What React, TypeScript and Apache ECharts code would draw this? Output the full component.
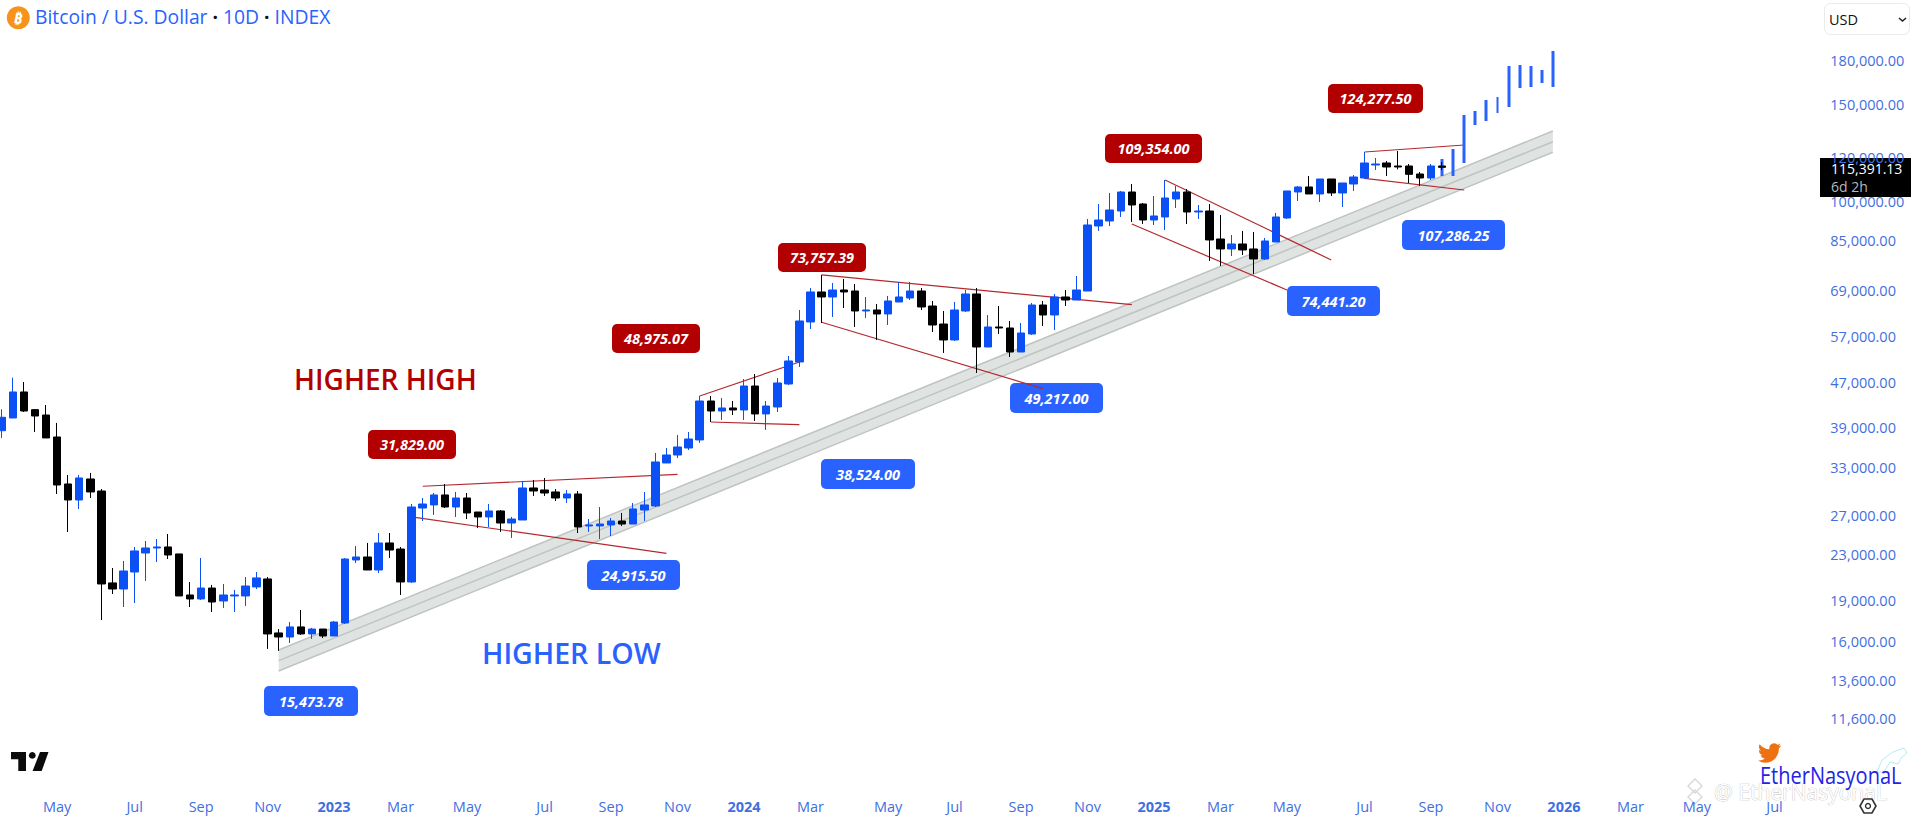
import React, { useEffect, useRef } from "react";
import * as echarts from "echarts";

const open = [38500,40590,45240,42030,41100,37500,30830,28840,31480,29940,20410,19900,21360,23120,23610,23710,23030,19410,19090,19980,18930,19330,19330,20070,20750,16570,16290,16990,16500,16840,16360,17270,22460,22740,21540,24110,23510,20490,27890,28250,29450,28010,29080,27430,26870,27550,26200,26530,30320,30070,29820,29080,29570,25880,25880,25990,26420,26090,27660,28130,33650,34790,35820,37040,43570,41790,42320,41970,46380,41280,42500,46770,51270,60570,68640,67220,69210,68920,63410,63670,62620,65830,66940,68920,64740,60060,56190,63410,68070,54570,59320,59070,53450,57610,65010,62360,67220,66380,68920,90370,92270,96200,104130,99050,92660,93830,101140,104130,95800,96200,85600,82110,83840,82110,78760,84540,93440,104130,106320,103270,109930,103700,107660,110390,116540,117510,116050,116050,112240,110390,116050];
const close = [40710,45240,41790,40930,37350,30700,28840,31610,29820,20320,19900,21450,23320,23610,23710,22930,19330,19090,19980,18850,19410,19410,20150,20840,16500,16290,16990,16500,16840,16360,17340,22550,22740,21540,24110,23410,20490,28010,28360,29450,28010,29080,27320,26870,27550,26200,26640,30320,29940,29690,29080,29570,25770,25990,26090,26420,26090,27780,28250,33790,34790,35970,37190,43570,41790,42320,41970,46380,41280,42670,46970,51480,60820,68640,67220,69210,68640,63410,63670,62620,66110,67220,68920,64480,59810,56190,63670,68070,54570,59320,59070,53450,57850,65010,62360,67220,66380,69210,90750,92660,96600,104130,98640,92660,94220,101560,104130,95800,96200,85250,82110,83840,81770,78760,84890,93830,104570,106320,103270,109930,103700,108110,110850,117510,117020,115570,115570,112090,110390,116050,115391];
const high = [42090,48020,47160,42140,42850,39760,32010,32010,32280,30190,21720,22370,23710,24310,24510,25030,23030,20490,22650,20240,20320,19820,20920,21360,20920,16840,17340,18230,16920,16840,17420,22650,23810,24110,25130,25130,23710,28360,29080,29690,30830,29820,29690,27430,28360,27660,26870,31220,31350,31610,30190,30070,29940,26640,28010,26760,27320,28480,29820,35080,35820,37820,38290,44490,44490,44120,43570,47760,48760,43570,47960,52560,63670,69790,73680,71260,72460,70960,67220,65290,67500,71560,71560,69790,66110,63410,65830,69210,69790,62360,64740,60820,60320,65560,66110,68070,69210,73370,93050,99050,103700,104570,107660,99460,102410,109470,106770,105440,98640,99050,94610,87040,88510,88140,85960,95400,104570,106770,111310,109930,109930,108110,111780,123020,119990,118490,123540,117020,113180,117020,118000];
const low = [37350,40590,41620,38290,37350,29570,25240,27780,29080,17490,19490,18460,18770,20580,22270,22550,19330,18460,19010,18080,18390,18080,18540,19900,15500,15370,15890,16430,16160,16220,16360,17200,22180,21540,21270,22650,19410,20410,26420,27090,27890,26870,26640,25660,25770,25240,24620,26530,29330,29330,28720,28480,25130,25240,24510,24820,25880,26090,26420,28010,33650,34360,35520,36580,39920,40260,41100,40260,40090,38610,41620,46580,50210,58830,60320,61840,64210,59320,61590,56190,59810,65830,66380,63670,58090,53230,55960,63150,48970,54570,57610,52350,53450,57370,59570,58580,64740,66380,68920,88510,90370,93830,91890,91130,90750,88880,97410,91130,93050,78100,76490,79750,80080,73980,78430,84540,93050,100300,103270,99880,102410,97820,104570,109930,114130,111310,114450,108110,106770,109470,114130];

const projectionStartIndex = 130;
const projectionTop = [119490,124570,143540,145950,152800,154720,176070,176800,176070,173160,187430];
const projectionBottom = [111310,111310,117510,137680,139990,144740,148410,160640,161310,164020,161310];

const priceTicks = [180000,150000,120000,100000,85000,69000,57000,47000,39000,33000,27000,23000,19000,16000,13600,11600];
const timeTickIndex = [5,12,18,24,30,36,42,49,55,61,67,73,80,86,92,98,104,110,116,123,129,135,141,147,153,160];
const timeTickLabel = ["May","Jul","Sep","Nov","2023","Mar","May","Jul","Sep","Nov","2024","Mar","May","Jul","Sep","Nov","2025","Mar","May","Jul","Sep","Nov","2026","Mar","May","Jul"];
const barCount = 165;

// [fromIndex, fromPrice, toIndex, toPrice]
const trendLines = [
  [38,30540,61,32100],[37,26870,60,23090],[63,44490,72,51270],[64,39920,72,39470],
  [74,73680,102,65100],[74,60490,94,45870],[105,109470,120,78430],[102,91130,116,69210],
  [123,123020,132,126670],[123,110250,132,105000],
];
const channelUpper = [25,15430,140,134280];
const channelMiddle = [25,14760,140,128420];
const channelLower = [25,14140,140,122870];

const BLUE = "#2962ff";
const RED = "#b20000";
const TICK = "#3f6fe0";
const FONT = "'Open Sans', sans-serif";

const callouts = [
  ["31,829.00",368,430,88,29,RED],["48,975.07",612,324,88,29,RED],["73,757.39",778,243,88,29,RED],
  ["109,354.00",1105,134,97,29,RED],["124,277.50",1328,84,95,29,RED],
  ["15,473.78",264,686,94,30,BLUE],["24,915.50",587,560,93,30,BLUE],["38,524.00",821,459,94,30,BLUE],
  ["49,217.00",1010,383,93,30,BLUE],["74,441.20",1287,286,93,30,BLUE],["107,286.25",1402,220,103,30,BLUE],
] as const;

const BIRD = "M23.953 4.57a10 10 0 0 1-2.825.775 4.958 4.958 0 0 0 2.163-2.723c-.951.555-2.005.959-3.127 1.184a4.92 4.92 0 0 0-8.384 4.482C7.69 8.095 4.067 6.13 1.64 3.162a4.822 4.822 0 0 0-.666 2.475c0 1.71.87 3.213 2.188 4.096a4.904 4.904 0 0 1-2.228-.616v.06a4.923 4.923 0 0 0 3.946 4.827 4.996 4.996 0 0 1-2.212.085 4.936 4.936 0 0 0 4.604 3.417 9.867 9.867 0 0 1-6.102 2.105c-.39 0-.779-.023-1.17-.067a13.995 13.995 0 0 0 7.557 2.209c9.053 0 13.998-7.496 13.998-13.985 0-.21 0-.42-.015-.63A9.935 9.935 0 0 0 24 4.59z";
echarts.graphic.registerShape("bird", echarts.graphic.extendPath(BIRD as any, {} as any));

const categories = Array.from({ length: barCount }, (_, i) => {
  const k = timeTickIndex.indexOf(i);
  return k >= 0 ? timeTickLabel[k] : "";
});

function buildOption() {
  const candles = open.map((o, i) => [i, o, close[i], low[i], high[i]]);
  const projection = projectionTop.map((t, i) => [projectionStartIndex + i, projectionBottom[i], t, projectionBottom[i], t]);
  const graphics: any[] = [];
  callouts.forEach(([text, x, y, w, h, fill]) => {
    graphics.push({ type: "rect", x, y, shape: { width: w, height: h, r: 5 }, style: { fill } });
    graphics.push({ type: "text", x: x + w / 2, y: y + h / 2, style: { text, fill: "#fff", align: "center", verticalAlign: "middle", font: `italic bold 14.5px ${FONT}` } });
  });
  graphics.push(
    { type: "text", x: 294, y: 379, style: { text: "HIGHER HIGH", fill: RED, verticalAlign: "middle", font: `600 28px ${FONT}` } },
    { type: "text", x: 482, y: 653, style: { text: "HIGHER LOW", fill: BLUE, verticalAlign: "middle", font: `600 28.5px ${FONT}` } },
    { type: "circle", shape: { cx: 18.3, cy: 17.7, r: 11.5 }, style: { fill: "#f7931a" } },
    { type: "text", x: 18.3, y: 17.7, rotation: -0.2, style: { text: "₿", fill: "#fff", align: "center", verticalAlign: "middle", font: "bold 15px 'Noto Sans', 'DejaVu Sans'" } },
    // currency selector
    { type: "rect", x: 1824.5, y: 3.5, shape: { width: 85, height: 31, r: 6 }, style: { fill: "#fff", stroke: "#eaeaea" } },
    { type: "text", x: 1829, y: 19.5, style: { text: "USD", fill: "#111", verticalAlign: "middle", font: `14.5px ${FONT}` } },
    { type: "polyline", shape: { points: [[1899, 18], [1902.5, 21], [1906, 18]] }, style: { stroke: "#222", lineWidth: 1.6, fill: "none" } },
    // current price tag
    { type: "rect", x: 1820, y: 158, shape: { width: 91, height: 39 }, style: { fill: "#000" } },
    { type: "text", x: 1831, y: 168, style: { text: "115,391.13", fill: "#fff", verticalAlign: "middle", font: `14px ${FONT}` } },
    { type: "text", x: 1831, y: 186, style: { text: "6d 2h", fill: "#b8b8b8", verticalAlign: "middle", font: `14px ${FONT}` } },
    // TradingView mark
    { type: "polygon", shape: { points: [[11, 752], [26, 752], [26, 771], [18.3, 771], [18.3, 759.3], [11, 759.3]] }, style: { fill: "#0b0b0b" } },
    { type: "circle", shape: { cx: 32.3, cy: 755.4, r: 3.4 }, style: { fill: "#0b0b0b" } },
    { type: "polygon", shape: { points: [[40, 752], [48.5, 752], [41.7, 771], [32.6, 771]] }, style: { fill: "#0b0b0b" } },
    // watermark
    { type: "bird", x: 1758, y: 741, scaleX: 0.97, scaleY: 1, style: { fill: "#ef7010" } },
    { type: "polygon", shape: { points: [[1877, 772], [1882, 760], [1893, 752], [1904, 748], [1907, 753], [1901, 758], [1898, 764], [1890, 762], [1884, 772]] }, style: { fill: "none", stroke: "#b4ecf6", lineWidth: 1 } },
    { type: "polygon", shape: { points: [[1695, 779], [1702, 786], [1695, 793], [1688, 786]] }, style: { fill: "none", stroke: "#d8d8d8", lineWidth: 1.4 } },
    { type: "polygon", shape: { points: [[1695, 790], [1702, 797], [1695, 804], [1688, 797]] }, style: { fill: "none", stroke: "#d8d8d8", lineWidth: 1.4 } },
    { type: "text", x: 1714, y: 792, style: { text: "@ EtherNasyonaL", fill: "#fff", stroke: "#bbbbbb", lineWidth: 0.7, verticalAlign: "middle", font: `21px ${FONT}` } },
    { type: "text", x: 1760, y: 775, scaleY: 1.15, style: { text: "EtherNasyonaL", fill: "#2323e6", verticalAlign: "middle", font: `20px ${FONT}` } },
    // settings
    { type: "polygon", shape: { points: [[1860, 806], [1864, 799], [1872, 799], [1876, 806], [1872, 813], [1864, 813]] }, style: { fill: "none", stroke: "#333", lineWidth: 1.6 } },
    { type: "circle", shape: { cx: 1868, cy: 806, r: 2.5 }, style: { fill: "none", stroke: "#333", lineWidth: 1.4 } },
  );
  return {
    animation: false,
    backgroundColor: "#fff",
    title: {
      left: 35, top: 7, padding: 0,
      text: "{a|Bitcoin / U.S. Dollar} {d|·} {a|10D} {d|·} {a|INDEX}",
      textStyle: { rich: {
        a: { fontFamily: FONT, fontSize: 19.3, color: BLUE, fontWeight: "normal" },
        d: { fontFamily: FONT, fontSize: 19.3, color: "#111", fontWeight: "bold" },
      } },
    },
    grid: { left: -3.87, top: 0, width: 1828.2, height: 790, outerBoundsMode: "none" },
    xAxis: {
      type: "category", data: categories, boundaryGap: true,
      axisLine: { show: false }, axisTick: { show: false }, splitLine: { show: false },
      axisLabel: {
        interval: (_: number, v: string) => v !== "", margin: 9, color: TICK, fontFamily: FONT, fontSize: 14.5, hideOverlap: false,
        formatter: (v: string) => (/^20/.test(v) ? `{b|${v}}` : v),
        rich: { b: { fontFamily: FONT, fontSize: 14.5, fontWeight: "bold", color: TICK } },
      },
    },
    yAxis: {
      type: "log", logBase: 10, position: "right", min: 8609, max: 231820, scale: true,
      axisLine: { show: false }, axisTick: { show: false }, splitLine: { show: false }, minorTick: { show: false },
      axisLabel: {
        customValues: priceTicks, margin: 6, color: TICK, fontFamily: FONT, fontSize: 14.5, align: "left",
        formatter: (v: number) => Math.round(v).toLocaleString("en-US", { minimumFractionDigits: 2, maximumFractionDigits: 2 }),
      },
    },
    series: [
      {
        type: "custom", name: "channel", z: 1, silent: true, data: [0],
        renderItem: (_: any, api: any) => {
          const p = (c: number[]) => [api.coord([c[0], c[1]]), api.coord([c[2], c[3]])];
          const u = p(channelUpper), m = p(channelMiddle), l = p(channelLower);
          const edge = { stroke: "#bfc4c2", lineWidth: 1.5 };
          return { type: "group", children: [
            { type: "polygon", shape: { points: [u[0], u[1], l[1], l[0]] }, style: { fill: "#dfe3e1" } },
            { type: "line", shape: { x1: u[0][0], y1: u[0][1], x2: u[1][0], y2: u[1][1] }, style: edge },
            { type: "line", shape: { x1: m[0][0], y1: m[0][1], x2: m[1][0], y2: m[1][1] }, style: edge },
            { type: "line", shape: { x1: l[0][0], y1: l[0][1], x2: l[1][0], y2: l[1][1] }, style: edge },
          ] };
        },
      },
      {
        type: "custom", name: "trend lines", z: 2, silent: true, data: trendLines.map((_, i) => i),
        renderItem: (params: any, api: any) => {
          const t = trendLines[params.dataIndex];
          const a = api.coord([t[0], t[1]]), b = api.coord([t[2], t[3]]);
          return { type: "line", shape: { x1: a[0], y1: a[1], x2: b[0], y2: b[1] }, style: { stroke: "#b5282f", lineWidth: 1.2 } };
        },
      },
      {
        type: "candlestick", name: "projection", z: 3, barWidth: 3.4, data: projection, encode: { x: 0, y: [1, 2, 3, 4] },
        itemStyle: { color: BLUE, color0: BLUE, borderColor: BLUE, borderColor0: BLUE, borderWidth: 0 },
      },
      {
        type: "candlestick", name: "BTCUSD", z: 4, barWidth: 8, data: candles, encode: { x: 0, y: [1, 2, 3, 4] },
        itemStyle: { color: "#0a50f5", color0: "#000", borderColor: "#0a50f5", borderColor0: "#000", borderWidth: 1 },
      },
    ],
    graphic: { elements: graphics },
  };
}

export default function App() {
  const ref = useRef<HTMLDivElement>(null);
  useEffect(() => {
    document.body.style.margin = "0";
    const chart = echarts.init(ref.current!, undefined, { renderer: "svg" });
    chart.setOption(buildOption() as any);
    return () => chart.dispose();
  }, []);
  return <div ref={ref} style={{ width: 1911, height: 819 }} />;
}
